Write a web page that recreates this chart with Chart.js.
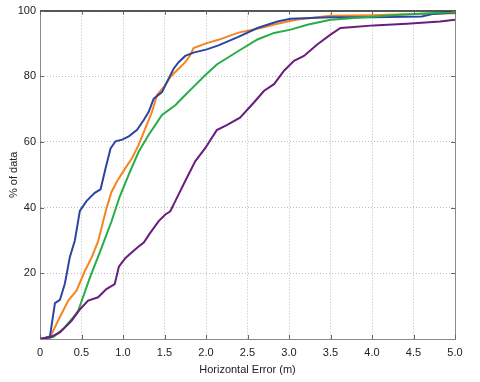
<!DOCTYPE html>
<html>
<head>
<meta charset="utf-8">
<script src="https://cdn.jsdelivr.net/npm/chart.js@4"></script>
<style>
html,body{margin:0;padding:0;background:#fff;}
#wrap{width:480px;height:382px;position:relative;}
</style>
</head>
<body>
<div id="wrap"><canvas id="c" width="480" height="382"></canvas></div>
<script>
const xTicks = [0, 0.5, 1, 1.5, 2, 2.5, 3, 3.5, 4, 4.5, 5];
const yTicks = [20, 40, 60, 80, 100];

const blueX = [0, 0.12, 0.18, 0.24, 0.3, 0.36, 0.42, 0.48, 0.56, 0.66, 0.73, 0.79, 0.85, 0.91, 0.99, 1.07, 1.17, 1.25, 1.31, 1.37, 1.47, 1.53, 1.61, 1.67, 1.75, 1.85, 2.01, 2.15, 2.39, 2.62, 2.86, 3.02, 3.5, 4.0, 4.6, 4.74, 5];
const blueY = [0, 0.8, 10.9, 11.9, 16.9, 25, 30, 39, 42, 44.5, 45.6, 52, 58, 60.2, 60.7, 61.7, 63.7, 66.7, 69.2, 73.2, 75.2, 78.3, 82.3, 84.3, 86.2, 87.2, 88.2, 89.4, 92, 94.7, 96.7, 97.5, 98, 98, 98.2, 99, 99.4];

const orangeX = [0, 0.12, 0.24, 0.34, 0.44, 0.54, 0.62, 0.7, 0.8, 0.86, 0.93, 1.03, 1.11, 1.19, 1.27, 1.35, 1.41, 1.51, 1.57, 1.67, 1.75, 1.8, 1.85, 2.01, 2.15, 2.39, 2.66, 2.86, 3.1, 3.5, 4.0, 4.5, 5];
const orangeY = [0, 0.5, 6.7, 11.7, 14.7, 20.7, 24.7, 29.7, 39.7, 44.7, 48.1, 52.1, 55.1, 59.2, 64.2, 69.2, 74.3, 77.3, 79.8, 82.3, 84.3, 86, 88.6, 90.1, 91.1, 93.3, 94.7, 96, 97.3, 98.4, 98.6, 99, 99.2];

const greenX = [0, 0.16, 0.28, 0.4, 0.46, 0.6, 0.74, 0.86, 0.96, 1.07, 1.19, 1.31, 1.47, 1.63, 1.75, 1.87, 1.99, 2.13, 2.39, 2.62, 2.82, 3.02, 3.22, 3.5, 3.74, 4.34, 5];
const greenY = [0, 0.6, 3.1, 6.6, 8.6, 18.6, 27.7, 35.7, 43.3, 50.1, 57.1, 62.2, 68.2, 71.2, 74.3, 77.3, 80.3, 83.6, 87.7, 91.2, 93.2, 94.2, 95.7, 97.2, 97.7, 98.7, 99.6];

const purpleX = [0, 0.12, 0.24, 0.38, 0.48, 0.58, 0.7, 0.8, 0.9, 0.95, 1.03, 1.17, 1.25, 1.33, 1.43, 1.51, 1.57, 1.63, 1.75, 1.87, 1.99, 2.13, 2.25, 2.41, 2.58, 2.7, 2.82, 2.94, 3.06, 3.18, 3.34, 3.5, 3.62, 3.78, 4.02, 4.42, 4.82, 5];
const purpleY = [0, 0.5, 2, 5.5, 9, 11.7, 12.7, 15.2, 16.7, 22, 24.7, 27.8, 29.4, 32.4, 35.9, 37.9, 38.9, 42, 48.1, 54.1, 58.1, 63.6, 65.1, 67.4, 72.1, 75.6, 77.6, 81.7, 84.7, 86.2, 89.7, 92.7, 94.7, 95, 95.5, 96, 96.7, 97.2];

const xTitle = 'Horizontal Error (m)';
const yTitle = '% of data';

function pts(xs, ys){ return xs.map((x,i)=>({x:x, y:ys[i]})); }

const FONT = "'Liberation Sans Narrow', 'Arial Narrow', 'Liberation Sans', Arial, sans-serif";

const framePlugin = {
  id: 'frame',
  afterDatasetsDraw(chart){
    const ctx = chart.ctx, a = chart.chartArea;
    const xs = chart.scales.x, ys = chart.scales.y;
    ctx.save();
    ctx.strokeStyle = '#8a8a8a'; ctx.lineWidth = 1;
    ctx.beginPath(); ctx.moveTo(a.right+0.5, a.top); ctx.lineTo(a.right+0.5, a.bottom); ctx.stroke();
    ctx.strokeStyle = '#222'; ctx.lineWidth = 1.5;
    ctx.beginPath(); ctx.moveTo(a.left, a.top+0.5); ctx.lineTo(a.right+1, a.top+0.5); ctx.stroke();
    ctx.strokeStyle = '#666'; ctx.lineWidth = 1;
    const L = 4;
    xTicks.forEach(v=>{
      const px = Math.round(xs.getPixelForValue(v))+0.5;
      ctx.beginPath(); ctx.moveTo(px, a.bottom); ctx.lineTo(px, a.bottom-L); ctx.stroke();
      ctx.beginPath(); ctx.moveTo(px, a.top); ctx.lineTo(px, a.top+L); ctx.stroke();
    });
    yTicks.forEach(v=>{
      const py = Math.round(ys.getPixelForValue(v))+0.5;
      ctx.beginPath(); ctx.moveTo(a.left, py); ctx.lineTo(a.left+L, py); ctx.stroke();
      ctx.beginPath(); ctx.moveTo(a.right, py); ctx.lineTo(a.right-L, py); ctx.stroke();
    });
    ctx.restore();
  }
};

const mk = (label, xs, ys, color) => ({
  label, data: pts(xs, ys), borderColor: color, backgroundColor: color,
  borderWidth: 2, pointRadius: 0, tension: 0, showLine: true, fill: false
});

new Chart(document.getElementById('c'), {
  type: 'scatter',
  data: {
    datasets: [
      mk('Purple', purpleX, purpleY, '#6a1d7c'),
      mk('Green', greenX, greenY, '#26ad48'),
      mk('Blue', blueX, blueY, '#2c45a3'),
      mk('Orange', orangeX, orangeY, '#f7851e')
    ]
  },
  options: {
    responsive: false,
    animation: false,
    layout: { padding: { top: 2, right: 25, left: 0, bottom: 0 } },
    plugins: { legend: { display: false }, tooltip: { enabled: false } },
    scales: {
      x: {
        type: 'linear', min: 0, max: 5,
        afterBuildTicks: s => { s.ticks = xTicks.map(v => ({ value: v })); },
        afterFit: s => { s.height = 43; },
        ticks: { color: '#222', font: { family: FONT, size: 11 }, padding: 7, maxRotation: 0, autoSkip: false },
        grid: { color: '#bdbdbd', lineWidth: 1, drawTicks: false },
        border: { display: true, color: '#8a8a8a', width: 1, dash: [1, 2] },
        title: { display: true, text: xTitle, color: '#222', font: { family: FONT, size: 11 }, padding: { top: 2, bottom: 5 } }
      },
      y: {
        type: 'linear', min: 0, max: 100,
        afterBuildTicks: s => { s.ticks = yTicks.map(v => ({ value: v })); },
        afterFit: s => { s.width = 40; },
        ticks: { color: '#222', font: { family: FONT, size: 11 }, padding: 4, autoSkip: false },
        grid: { color: '#bdbdbd', lineWidth: 1, drawTicks: false },
        border: { display: true, color: '#8a8a8a', width: 1, dash: [1, 2] },
        title: { display: true, text: yTitle, color: '#222', font: { family: FONT, size: 11 }, padding: { top: 7, bottom: 2 } }
      }
    }
  },
  plugins: [framePlugin]
});
</script>
</body>
</html>
